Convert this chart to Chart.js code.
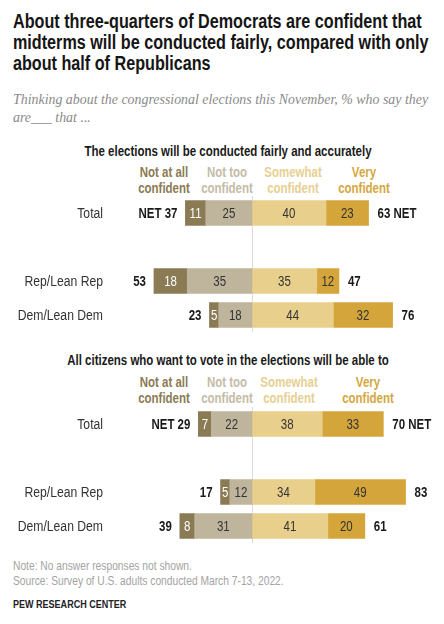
<!DOCTYPE html>
<html><head><meta charset="utf-8">
<script src="https://cdn.jsdelivr.net/npm/chart.js@4"></script>
<style>
html,body{margin:0;padding:0;background:#fff;}
body{width:444px;height:624px;position:relative;overflow:hidden;font-family:"Liberation Sans Narrow","Arial Narrow","Liberation Sans",sans-serif;}
.abs{position:absolute;white-space:nowrap;}
.ln{display:inline-block;transform-origin:0 0;}
#title{left:13px;top:11px;font-size:20px;line-height:21px;font-weight:bold;color:#151515;}
#sub{left:13px;top:90px;font-family:"Liberation Serif",serif;font-style:italic;font-size:15.5px;line-height:18px;color:#8a8a8a;}
.hdr{font-weight:bold;font-size:14px;line-height:15px;color:#1a1a1a;transform:translateX(-50%) scaleX(0.82);}
.leg{font-weight:bold;font-size:14px;line-height:16px;text-align:center;transform:translateX(-50%) scaleX(0.82);}
canvas{position:absolute;left:0;}
.note{left:13px;font-size:12.5px;line-height:16px;color:#a3a3a3;transform:scaleX(0.82);transform-origin:0 0;}
#pew{left:13px;top:598px;font-size:11px;line-height:13px;font-weight:bold;color:#222;transform:scaleX(0.82);transform-origin:0 0;}
</style></head>
<body>
<div id="title" class="abs"><span class="ln">About three-quarters of Democrats are confident that</span><br><span class="ln">midterms will be conducted fairly, compared with only</span><br><span class="ln">about half of Republicans</span></div>
<div id="sub" class="abs"><span class="ln">Thinking about the congressional elections this November, % who say they</span><br><span class="ln">are___ that ...</span></div>
<div class="abs hdr" style="left:228px;top:144px;">The elections will be conducted fairly and accurately</div>
<div class="abs hdr" style="left:228px;top:353px;">All citizens who want to vote in the elections will be able to</div>
<div id="leg1"></div>
<div id="leg2"></div>
<canvas id="c1" width="444" height="136" style="top:196px;"></canvas>
<canvas id="c2" width="444" height="136" style="top:407px;"></canvas>
<div class="abs note" style="top:558px;">Note: No answer responses not shown.</div>
<div class="abs note" style="top:573px;">Source: Survey of U.S. adults conducted March 7-13, 2022.</div>
<div id="pew" class="abs">PEW RESEARCH CENTER</div>
<script>
// ---------- data ----------
const rowLabels = ['Total', 'Rep/Lean Rep', 'Dem/Lean Dem'];
const legendLine1 = ['Not at all', 'Not too', 'Somewhat', 'Very'];
const legendLine2 = 'confident';

// The elections will be conducted fairly and accurately
const notAtAll1 = [11, 18, 5];
const notToo1   = [25, 35, 18];
const somewhat1 = [40, 35, 44];
const very1     = [23, 12, 32];
const netNot1   = [37, 53, 23];
const netConf1  = [63, 47, 76];

// All citizens who want to vote in the elections will be able to
const notAtAll2 = [7, 5, 8];
const notToo2   = [22, 12, 31];
const somewhat2 = [38, 34, 41];
const very2     = [33, 49, 20];
const netNot2   = [29, 17, 39];
const netConf2  = [70, 83, 61];

// ---------- styles ----------
const FONT = '"Liberation Sans",Arial,sans-serif';
const NARROW = 0.82;
const COLORS = { notAtAll: '#8a7b54', notToo: '#bfb59d', somewhat: '#e8cf8c', very: '#d4a53b' };
const LEG_TEXT = ['#8a7b54', '#c4bca7', '#e6d092', '#d5a73f'];

// squeeze a block of lines so its first line spans the given width
function fitLines(id, target) {
  const lines = document.querySelectorAll('#' + id + ' .ln');
  const k = target / lines[0].offsetWidth;
  lines.forEach(l => { l.style.transform = 'scaleX(' + k + ')'; });
}
fitLines('title', 409);
fitLines('sub', 415);

function buildLegend(id, top, centers) {
  const host = document.getElementById(id);
  legendLine1.forEach((t, i) => {
    const d = document.createElement('div');
    d.className = 'abs leg';
    d.style.left = centers[i] + 'px';
    d.style.top = top + 'px';
    d.style.color = LEG_TEXT[i];
    d.innerHTML = t + '<br>' + legendLine2;
    host.appendChild(d);
  });
}
buildLegend('leg1', 164, [163.5, 227, 292.5, 364]);
buildLegend('leg2', 374, [163.5, 227, 289, 367.5]);

// insert a spacer row after "Total"
const pad = a => [a[0], null, a[1], a[2]];
const neg = a => a.map(v => v == null ? null : -v);

function narrowText(ctx, text, x, y, align, k) {
  ctx.save();
  ctx.translate(x, y);
  ctx.scale(k || NARROW, 1);
  ctx.textAlign = align;
  ctx.fillText(text, 0, 0);
  ctx.restore();
}

const overlay = {
  id: 'overlay',
  beforeDatasetsDraw(chart) {
    const { ctx, chartArea: a, scales: { x } } = chart;
    const x0 = Math.round(x.getPixelForValue(0)) + 0.5;
    ctx.save();
    ctx.strokeStyle = '#dcdcdc';
    ctx.lineWidth = 1;
    ctx.beginPath();
    ctx.moveTo(x0, a.top);
    ctx.lineTo(x0, a.bottom);
    ctx.stroke();
    ctx.restore();
  },
  afterDatasetsDraw(chart, args, opts) {
    const { ctx, chartArea: a, scales: { y } } = chart;
    ctx.save();
    ctx.textBaseline = 'middle';
    // row labels (category axis)
    ctx.font = '14px ' + FONT;
    ctx.fillStyle = '#333';
    chart.data.labels.forEach((lab, i) => {
      if (!lab) return;
      narrowText(ctx, lab, a.left - 19.5, y.getPixelForValue(i) + 1, 'right', 0.87);
    });
    // segment values
    chart.data.datasets.forEach((ds, i) => {
      chart.getDatasetMeta(i).data.forEach((el, j) => {
        const v = ds.data[j];
        if (v == null) return;
        ctx.fillStyle = ds.textColor;
        narrowText(ctx, String(Math.abs(v)), (el.x + el.base) / 2, el.y + 1, 'center');
      });
    });
    // NET labels
    ctx.font = 'bold 14px ' + FONT;
    ctx.fillStyle = '#1a1a1a';
    const leftMeta = chart.getDatasetMeta(1);
    const rightMeta = chart.getDatasetMeta(3);
    opts.netNot.forEach((v, j) => {
      if (v == null) return;
      const l = leftMeta.data[j], r = rightMeta.data[j];
      const isTotal = j === 0;
      narrowText(ctx, isTotal ? 'NET ' + v : String(v), l.x - 8, l.y + 1, 'right');
      narrowText(ctx, isTotal ? opts.netConf[j] + ' NET' : String(opts.netConf[j]), r.x + 9, r.y + 1, 'left');
    });
    ctx.restore();
  }
};

function makeChart(id, notAtAll, notToo, somewhat, very, netNot, netConf) {
  return new Chart(document.getElementById(id), {
    type: 'bar',
    data: {
      labels: [rowLabels[0], '', rowLabels[1], rowLabels[2]],
      datasets: [
        { label: 'Not too confident', data: neg(pad(notToo)), backgroundColor: COLORS.notToo, textColor: '#333' },
        { label: 'Not at all confident', data: neg(pad(notAtAll)), backgroundColor: COLORS.notAtAll, textColor: '#fff' },
        { label: 'Somewhat confident', data: pad(somewhat), backgroundColor: COLORS.somewhat, textColor: '#333' },
        { label: 'Very confident', data: pad(very), backgroundColor: COLORS.very, textColor: '#333' }
      ]
    },
    options: {
      indexAxis: 'y',
      responsive: false,
      animation: false,
      devicePixelRatio: 1,
      layout: { padding: { left: 0, right: 7, top: 0, bottom: 0 } },
      datasets: { bar: { barThickness: 25, borderWidth: 0 } },
      plugins: {
        legend: { display: false },
        tooltip: { enabled: false },
        overlay: { netNot: pad(netNot), netConf: pad(netConf) }
      },
      scales: {
        x: { type: 'linear', min: -70, max: 100, stacked: true, display: false },
        y: {
          type: 'category', stacked: true, offset: true,
          grid: { display: false, drawTicks: false },
          border: { display: false },
          ticks: { display: false, padding: 0 },
          afterFit(s) { s.width = 122.5; s.paddingTop = 0; s.paddingBottom = 0; }
        }
      }
    },
    plugins: [overlay]
  });
}

makeChart('c1', notAtAll1, notToo1, somewhat1, very1, netNot1, netConf1);
makeChart('c2', notAtAll2, notToo2, somewhat2, very2, netNot2, netConf2);
</script>
</body></html>
